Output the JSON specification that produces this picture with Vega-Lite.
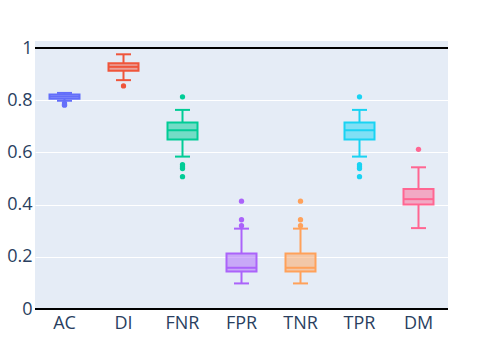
{
  "$schema": "https://vega.github.io/schema/vega-lite/v6.json",
  "width": 413,
  "height": 268,
  "autosize": "none",
  "padding": {"left": 35, "top": 41, "right": 34, "bottom": 35},
  "background": "white",
  "config": {
    "view": {"fill": "#e5ecf6", "stroke": null},
    "font": "Open Sans"
  },
  "datasets": {
    "boxes": [
      {"metric": "AC", "lower": 0.798, "q1": 0.806, "median": 0.814, "q3": 0.822, "upper": 0.828},
      {"metric": "DI", "lower": 0.877, "q1": 0.913, "median": 0.928, "q3": 0.942, "upper": 0.976},
      {"metric": "FNR", "lower": 0.584, "q1": 0.65, "median": 0.685, "q3": 0.715, "upper": 0.763},
      {"metric": "FPR", "lower": 0.098, "q1": 0.144, "median": 0.158, "q3": 0.213, "upper": 0.308},
      {"metric": "TNR", "lower": 0.098, "q1": 0.144, "median": 0.158, "q3": 0.213, "upper": 0.308},
      {"metric": "TPR", "lower": 0.584, "q1": 0.65, "median": 0.685, "q3": 0.715, "upper": 0.763},
      {"metric": "DM", "lower": 0.31, "q1": 0.40, "median": 0.421, "q3": 0.46, "upper": 0.543}
    ],
    "outliers": [
      {"metric": "AC", "value": 0.789},
      {"metric": "AC", "value": 0.784},
      {"metric": "AC", "value": 0.781},
      {"metric": "DI", "value": 0.855},
      {"metric": "FNR", "value": 0.813},
      {"metric": "FNR", "value": 0.553},
      {"metric": "FNR", "value": 0.545},
      {"metric": "FNR", "value": 0.538},
      {"metric": "FNR", "value": 0.507},
      {"metric": "FPR", "value": 0.413},
      {"metric": "FPR", "value": 0.342},
      {"metric": "FPR", "value": 0.319},
      {"metric": "TNR", "value": 0.413},
      {"metric": "TNR", "value": 0.342},
      {"metric": "TNR", "value": 0.319},
      {"metric": "TPR", "value": 0.813},
      {"metric": "TPR", "value": 0.553},
      {"metric": "TPR", "value": 0.545},
      {"metric": "TPR", "value": 0.538},
      {"metric": "TPR", "value": 0.507},
      {"metric": "DM", "value": 0.612}
    ]
  },
  "encoding": {
    "x": {
      "field": "metric",
      "type": "nominal",
      "sort": ["AC", "DI", "FNR", "FPR", "TNR", "TPR", "DM"],
      "scale": {"domain": ["AC", "DI", "FNR", "FPR", "TNR", "TPR", "DM"], "paddingInner": 0, "paddingOuter": 0},
      "axis": {"title": null, "labelAngle": 0, "domain": false, "ticks": false, "grid": false, "labelFontSize": 18, "labelColor": "#2a3f5f", "labelPadding": 5, "labelFont": "Open Sans"}
    },
    "color": {
      "field": "metric",
      "type": "nominal",
      "scale": {"domain": ["AC", "DI", "FNR", "FPR", "TNR", "TPR", "DM"], "range": ["#636efa", "#EF553B", "#00cc96", "#ab63fa", "#FFA15A", "#19d3f3", "#FF6692"]},
      "legend": null
    }
  },
  "layer": [
    {
      "data": {"values": [{"v": 0}, {"v": 1}]},
      "mark": {"type": "rule", "color": "#000000", "strokeWidth": 2},
      "encoding": {
        "x": null,
        "color": null,
        "y": {"field": "v", "type": "quantitative", "scale": {"domain": [0, 1.027], "nice": false, "zero": false},
          "axis": {"title": null, "values": [0, 0.2, 0.4, 0.6, 0.8, 1], "format": "~g", "domain": false, "ticks": false, "gridColor": "white", "gridWidth": 1, "labelFontSize": 18, "labelColor": "#2a3f5f", "labelPadding": 3, "labelFont": "Open Sans"}}
      }
    },
    {
      "data": {"name": "boxes"},
      "mark": {"type": "rule", "strokeWidth": 2},
      "encoding": {"y": {"field": "lower", "type": "quantitative"}, "y2": {"field": "q1"}}
    },
    {
      "data": {"name": "boxes"},
      "mark": {"type": "rule", "strokeWidth": 2},
      "encoding": {"y": {"field": "q3", "type": "quantitative"}, "y2": {"field": "upper"}}
    },
    {
      "data": {"name": "boxes"},
      "mark": {"type": "tick", "orient": "horizontal", "size": 15, "thickness": 2, "opacity": 1},
      "encoding": {"y": {"field": "lower", "type": "quantitative"}}
    },
    {
      "data": {"name": "boxes"},
      "mark": {"type": "tick", "orient": "horizontal", "size": 15, "thickness": 2, "opacity": 1},
      "encoding": {"y": {"field": "upper", "type": "quantitative"}}
    },
    {
      "data": {"name": "boxes"},
      "mark": {"type": "bar", "width": 30, "fillOpacity": 0.5, "strokeWidth": 2},
      "encoding": {
        "y": {"field": "q1", "type": "quantitative"},
        "y2": {"field": "q3"},
        "stroke": {"field": "metric", "type": "nominal", "scale": {"domain": ["AC", "DI", "FNR", "FPR", "TNR", "TPR", "DM"], "range": ["#636efa", "#EF553B", "#00cc96", "#ab63fa", "#FFA15A", "#19d3f3", "#FF6692"]}, "legend": null}
      }
    },
    {
      "data": {"name": "boxes"},
      "mark": {"type": "tick", "orient": "horizontal", "size": 30, "thickness": 2, "opacity": 1},
      "encoding": {"y": {"field": "median", "type": "quantitative"}}
    },
    {
      "data": {"name": "outliers"},
      "mark": {"type": "circle", "size": 28, "opacity": 1},
      "encoding": {"y": {"field": "value", "type": "quantitative"}}
    }
  ]
}
